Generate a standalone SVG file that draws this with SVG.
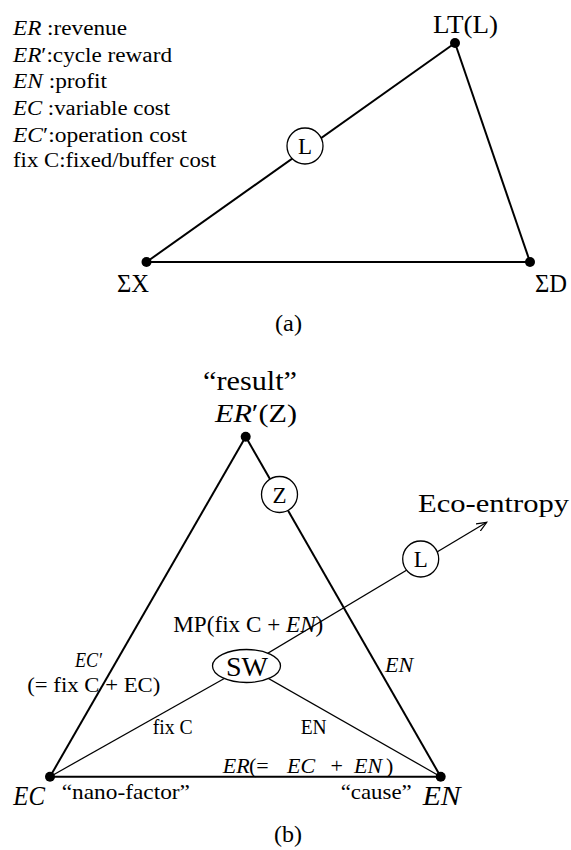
<svg xmlns="http://www.w3.org/2000/svg" width="571" height="850" viewBox="0 0 571 850">
<style>
  text { font-family: "Liberation Serif", "Times New Roman", serif; fill: #000; }
  .i { font-style: italic; }
  .thick { stroke: #000; stroke-width: 2; fill: none; }
  .thin { stroke: #000; stroke-width: 1.25; fill: none; }
  .dot { fill: #000; }
  .ring { fill: #fff; stroke: #000; stroke-width: 1.3; }
  .leg { font-size: 20px; }
  .c { text-anchor: middle; }
</style>
<defs>
  <marker id="arr" markerWidth="12" markerHeight="12" refX="10" refY="5" orient="auto" markerUnits="userSpaceOnUse">
    <path d="M0,0.8 L10,5 L0,9.2" fill="none" stroke="#000" stroke-width="1.2"/>
  </marker>
</defs>
<rect width="571" height="850" fill="#fff"/>

<g id="legend" class="leg">
  <text x="13" y="35" textLength="114" lengthAdjust="spacingAndGlyphs"><tspan class="i">ER</tspan> :revenue</text>
  <text x="13" y="61.5" textLength="159" lengthAdjust="spacingAndGlyphs"><tspan class="i">ER</tspan>′:cycle reward</text>
  <text x="13" y="88" textLength="94" lengthAdjust="spacingAndGlyphs"><tspan class="i">EN</tspan> :profit</text>
  <text x="13" y="115" textLength="157" lengthAdjust="spacingAndGlyphs"><tspan class="i">EC</tspan> :variable cost</text>
  <text x="13" y="141.5" textLength="174" lengthAdjust="spacingAndGlyphs"><tspan class="i">EC</tspan>′:operation cost</text>
  <text x="13" y="167" textLength="203" lengthAdjust="spacingAndGlyphs">fix C:fixed/buffer cost</text>
</g>

<g id="connectors">
  <!-- (a) -->
  <line class="thick" x1="146.5" y1="262" x2="455" y2="43"/>
  <line class="thick" x1="455" y1="43" x2="530" y2="262"/>
  <line class="thick" x1="146.5" y1="262" x2="530" y2="262"/>
  <!-- (b) -->
  <line class="thick" x1="245.7" y1="436.7" x2="50" y2="776.7"/>
  <line class="thick" x1="245.7" y1="436.7" x2="440.7" y2="776.7"/>
  <line class="thick" x1="50" y1="776.7" x2="440.7" y2="776.7"/>
  <line class="thin" x1="50" y1="776.7" x2="246.5" y2="666"/>
  <line class="thin" x1="246.5" y1="666" x2="440.7" y2="776.7"/>
  <line class="thin" x1="246.5" y1="666" x2="486.7" y2="522.3" marker-end="url(#arr)"/>
</g>

<g id="node-LT">
  <circle class="dot" cx="455" cy="43" r="5"/>
  <text x="433" y="33" font-size="26" textLength="65" lengthAdjust="spacingAndGlyphs">LT(L)</text>
</g>
<g id="node-SX">
  <circle class="dot" cx="146.5" cy="262" r="5"/>
  <text x="117" y="292" font-size="25" textLength="32" lengthAdjust="spacingAndGlyphs">ΣX</text>
</g>
<g id="node-SD">
  <circle class="dot" cx="530" cy="262" r="5"/>
  <text x="535" y="292" font-size="25" textLength="32" lengthAdjust="spacingAndGlyphs">ΣD</text>
</g>
<g id="node-La">
  <circle class="ring" cx="305" cy="146" r="18"/>
  <text class="c" x="305" y="154" font-size="23">L</text>
</g>
<text id="cap-a" x="275" y="331" font-size="23" textLength="27" lengthAdjust="spacingAndGlyphs">(a)</text>

<g id="node-ERp">
  <circle class="dot" cx="245.7" cy="436.7" r="5"/>
  <text x="203" y="390" font-size="27" textLength="94" lengthAdjust="spacingAndGlyphs">“result”</text>
  <text x="215" y="422" font-size="26" textLength="82" lengthAdjust="spacingAndGlyphs"><tspan class="i">ER</tspan>′(Z)</text>
</g>
<g id="node-Z">
  <circle class="ring" cx="279.5" cy="494.5" r="18"/>
  <text class="c" x="279.5" y="502.5" font-size="23">Z</text>
</g>
<g id="node-Lb">
  <circle class="ring" cx="420.7" cy="559" r="18"/>
  <text class="c" x="420.7" y="567" font-size="23">L</text>
</g>
<text id="eco" x="418" y="512" font-size="25" textLength="151" lengthAdjust="spacingAndGlyphs">Eco-entropy</text>
<g id="node-SW">
  <ellipse class="ring" cx="246.5" cy="666" rx="34" ry="16.5"/>
  <text class="c" x="247" y="676" font-size="28">SW</text>
</g>
<text x="173.3" y="631.7" font-size="23" textLength="150" lengthAdjust="spacingAndGlyphs">MP(fix C + <tspan class="i">EN</tspan>)</text>
<text class="i" x="75" y="666.7" font-size="21" textLength="27" lengthAdjust="spacingAndGlyphs">EC′</text>
<text x="27.3" y="691.7" font-size="22" textLength="133" lengthAdjust="spacingAndGlyphs">(= fix C + EC)</text>
<text class="i" x="385" y="671.7" font-size="20" textLength="28.3" lengthAdjust="spacingAndGlyphs">EN</text>
<text x="152.7" y="734" font-size="21" textLength="40" lengthAdjust="spacingAndGlyphs">fix C</text>
<text x="300.7" y="734" font-size="21" textLength="26" lengthAdjust="spacingAndGlyphs">EN</text>
<text y="773.3" font-size="22"><tspan class="i" x="222.7">ER</tspan><tspan x="249">(= </tspan><tspan class="i" x="287">EC</tspan><tspan x="325"> + </tspan><tspan class="i" x="354">EN</tspan><tspan x="386">)</tspan></text>

<g id="node-EC">
  <circle class="dot" cx="50" cy="776.7" r="5"/>
  <text class="i" x="13.3" y="805" font-size="27" textLength="31.7" lengthAdjust="spacingAndGlyphs">EC</text>
  <text x="61.7" y="799" font-size="22" textLength="128.3" lengthAdjust="spacingAndGlyphs">“nano-factor”</text>
</g>
<g id="node-EN">
  <circle class="dot" cx="440.7" cy="776.7" r="5"/>
  <text class="i" x="422.7" y="805" font-size="27" textLength="38" lengthAdjust="spacingAndGlyphs">EN</text>
  <text x="340.7" y="799" font-size="22" textLength="71" lengthAdjust="spacingAndGlyphs">“cause”</text>
</g>
<text id="cap-b" x="274" y="842" font-size="23" textLength="28" lengthAdjust="spacingAndGlyphs">(b)</text>
</svg>
